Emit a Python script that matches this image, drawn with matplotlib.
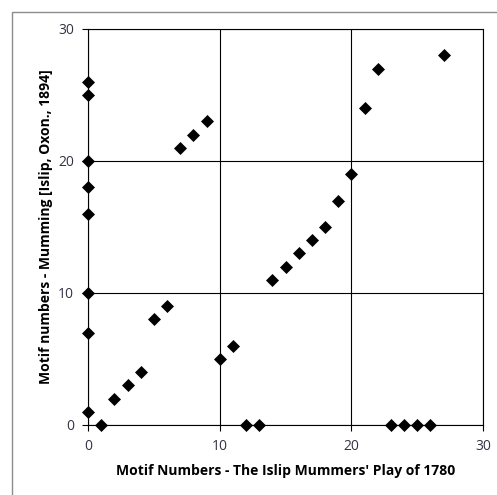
import matplotlib
matplotlib.use("Agg")
import matplotlib.pyplot as plt
from matplotlib.patches import Rectangle

# Data
islip_1780 = [0, 0, 0, 0, 0, 0, 0, 0, 1, 2, 3, 4, 5, 6, 7, 8, 9, 10, 11, 12, 13,
              14, 15, 16, 17, 18, 19, 20, 21, 22, 23, 24, 25, 26, 27]
mumming_1894 = [26, 25, 20, 18, 16, 10, 7, 1, 0, 2, 3, 4, 8, 9, 21, 22, 23, 5, 6, 0, 0,
                11, 12, 13, 14, 15, 17, 19, 24, 27, 0, 0, 0, 0, 28]
ticks = [0, 10, 20, 30]
x_label = "Motif Numbers - The Islip Mummers' Play of 1780"
y_label = "Motif numbers - Mumming [Islip, Oxon., 1894]"

plt.rcParams['font.family'] = ['Open Sans', 'DejaVu Sans']

fig = plt.figure(figsize=(4.97, 4.95), dpi=100)
ax = fig.add_axes([88/497, 1-425/495, (483-88)/497, (425-29)/495])

# outer chart border (gray)
fig.patches.append(Rectangle((12/497, -0.1), 1.0, 1 - 12/495 + 0.1, fill=False,
                             edgecolor='#8c8c8c', linewidth=1.0,
                             transform=fig.transFigure, figure=fig))

ax.scatter(islip_1780, mumming_1894, marker='D', s=44, color='black', zorder=3,
           clip_on=False, linewidths=0)

ax.set_xlim(0, 30)
ax.set_ylim(0, 30)
ax.set_xticks(ticks)
ax.set_yticks(ticks)
ax.grid(True, color='black', linewidth=0.8)
ax.set_axisbelow(True)
for sp in ax.spines.values():
    sp.set_color('black')
    sp.set_linewidth(0.8)
ax.tick_params(direction='out', length=4, width=0.8, colors='black',
               labelcolor='#333344', labelsize=10, pad=6)

ax.set_xlabel(x_label, fontsize=10, fontweight='bold', labelpad=7)
ax.set_ylabel(y_label, fontsize=10, fontweight='bold', labelpad=4)

fig.savefig("out.png", dpi=100)
